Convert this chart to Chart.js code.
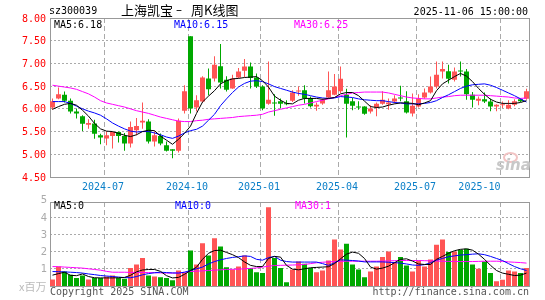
<!DOCTYPE html>
<html>
<head>
<meta charset="utf-8">
<script src="https://cdn.jsdelivr.net/npm/chart.js@4.4.0/dist/chart.umd.min.js"></script>
<style>
    html, body { margin: 0; padding: 0; background: #fff; }
    #wrap { position: relative; width: 545px; height: 300px; overflow: hidden; }
    canvas { position: absolute; left: 0; }
    #priceChart { top: 0; }
    #volChart { top: 190px; }
    .txt { position: absolute; white-space: nowrap; font: 10px "DejaVu Sans Mono", monospace; line-height: 12px; color: #000; }
    .cjk { font-family: "Noto Sans CJK SC", sans-serif; font-size: 13px; line-height: 16px; }
</style>
</head>
<body>
<div id="wrap">
    <canvas id="priceChart" width="545" height="190"></canvas>
    <canvas id="volChart" width="545" height="110"></canvas>

    <div class="txt" style="left:49px;top:5px;">sz300039</div>
    <div class="txt cjk" style="left:121px;top:2px;">上海凯宝</div>
    <div class="txt" style="left:176px;top:3px;font:12px 'DejaVu Sans';line-height:14px;">–</div>
    <div class="txt cjk" style="left:191px;top:2px;">周K线图</div>
    <div class="txt" style="right:17px;top:6px;">2025-11-06 15:00:00</div>

    <div class="txt" style="left:54px;top:19px;">MA5:6.18</div>
    <div class="txt" style="left:174px;top:19px;color:#0000ff;">MA10:6.15</div>
    <div class="txt" style="left:294px;top:19px;color:#ff00ff;">MA30:6.25</div>

    <div class="txt" style="left:54px;top:200px;">MA5:0</div>
    <div class="txt" style="left:175px;top:200px;color:#0000ff;">MA10:0</div>
    <div class="txt" style="left:295px;top:200px;color:#ff00ff;">MA30:1</div>

    <div class="txt" style="left:19px;top:279px;font-family:'Noto Sans CJK SC';font-size:11px;line-height:14px;color:#bbb;">x百万</div>
    <div class="txt" style="left:50px;top:286px;color:#555;">Copyright 2025 SINA.COM</div>
    <div class="txt" style="right:16px;top:286px;color:#555;">http://finance.sina.com.cn</div>

    <div style="position:absolute;left:503px;top:152px;width:11px;height:7px;border:2px solid #f2c4c4;border-radius:50%;"></div>
    <div class="txt" style="left:496px;top:157px;font:italic bold 15px 'DejaVu Sans';line-height:16px;color:#c8c8c8;">sina</div>
</div>

<script>
// Weekly bars, labelled by the Monday of each week
const weeks = [
    '2024-04-29', '2024-05-06', '2024-05-13', '2024-05-20', '2024-05-27', '2024-06-03', '2024-06-10', '2024-06-17', '2024-06-24', '2024-07-01',
    '2024-07-08', '2024-07-15', '2024-07-22', '2024-07-29', '2024-08-05', '2024-08-12', '2024-08-19', '2024-08-26', '2024-09-02', '2024-09-09',
    '2024-09-16', '2024-09-23', '2024-09-30', '2024-10-07', '2024-10-14', '2024-10-21', '2024-10-28', '2024-11-04', '2024-11-11', '2024-11-18',
    '2024-11-25', '2024-12-02', '2024-12-09', '2024-12-16', '2024-12-23', '2024-12-30', '2025-01-06', '2025-01-13', '2025-01-20', '2025-01-27',
    '2025-02-03', '2025-02-10', '2025-02-17', '2025-02-24', '2025-03-03', '2025-03-10', '2025-03-17', '2025-03-24', '2025-03-31', '2025-04-07',
    '2025-04-14', '2025-04-21', '2025-04-28', '2025-05-05', '2025-05-12', '2025-05-19', '2025-05-26', '2025-06-02', '2025-06-09', '2025-06-16',
    '2025-06-23', '2025-06-30', '2025-07-07', '2025-07-14', '2025-07-21', '2025-07-28', '2025-08-04', '2025-08-11', '2025-08-18', '2025-08-25',
    '2025-09-01', '2025-09-08', '2025-09-15', '2025-09-22', '2025-09-29', '2025-10-06', '2025-10-13', '2025-10-20', '2025-10-27', '2025-11-03'
];

const opens = [
    6.03, 6.23, 6.31, 6.18, 5.94, 5.84, 5.65, 5.68, 5.42, 5.35,
    5.40, 5.49, 5.40, 5.24, 5.53, 5.70, 5.72, 5.28, 5.40, 5.20,
    5.11, 5.08, 5.96, 7.60, 6.03, 6.16, 6.67, 6.67, 6.94, 6.64,
    6.45, 6.69, 6.84, 6.93, 6.69, 6.49, 6.11, 6.13, 6.17, 6.12,
    6.18, 6.38, 6.41, 6.24, 6.05, 6.12, 6.25, 6.31, 6.39, 6.31,
    6.17, 6.04, 6.05, 5.94, 6.03, 6.11, 6.10, 6.16, 6.24, 6.17,
    5.90, 6.05, 6.25, 6.36, 6.49, 6.82, 6.83, 6.64, 6.83, 6.82,
    6.31, 6.18, 6.21, 6.16, 6.05, 6.08, 6.01, 6.09, 6.21, 6.22
];
const highs = [
    6.23, 6.47, 6.38, 6.23, 6.01, 5.86, 5.77, 5.76, 5.45, 5.50,
    5.50, 5.50, 5.47, 5.72, 5.80, 6.14, 5.77, 5.50, 5.46, 5.28,
    5.11, 5.79, 6.52, 7.60, 6.30, 6.72, 6.89, 7.16, 7.43, 6.72,
    6.75, 6.90, 7.10, 7.02, 6.78, 6.52, 7.04, 6.32, 6.23, 6.19,
    6.41, 6.49, 6.52, 6.27, 6.14, 6.23, 6.82, 6.77, 6.93, 6.44,
    6.24, 6.17, 6.06, 6.08, 6.14, 6.39, 6.23, 6.30, 6.51, 6.39,
    6.34, 6.32, 6.45, 6.71, 7.04, 7.04, 6.97, 6.91, 7.04, 6.88,
    6.37, 6.27, 6.36, 6.23, 6.10, 6.16, 6.19, 6.21, 6.23, 6.44
];
const lows = [
    5.98, 6.21, 6.14, 5.90, 5.79, 5.51, 5.56, 5.34, 5.22, 5.20,
    5.13, 5.26, 5.08, 5.15, 5.42, 5.56, 5.24, 5.17, 5.20, 5.06,
    4.91, 5.04, 5.90, 5.90, 5.94, 6.14, 6.30, 6.60, 6.45, 6.38,
    6.44, 6.67, 6.70, 6.45, 6.46, 5.97, 6.09, 5.85, 6.01, 6.08,
    6.15, 6.29, 6.12, 6.03, 5.96, 6.09, 6.23, 6.30, 6.35, 5.37,
    5.97, 5.98, 5.87, 5.90, 5.84, 6.09, 5.98, 6.12, 6.17, 5.90,
    5.83, 6.03, 6.22, 6.34, 6.45, 6.67, 6.56, 6.60, 6.71, 6.20,
    6.03, 6.08, 6.13, 5.95, 5.95, 6.02, 5.99, 6.06, 6.15, 6.20
];
const closes = [
    6.17, 6.32, 6.18, 5.94, 5.90, 5.67, 5.69, 5.45, 5.37, 5.42,
    5.49, 5.40, 5.24, 5.60, 5.62, 5.74, 5.28, 5.42, 5.24, 5.08,
    5.08, 5.74, 6.39, 6.01, 6.19, 6.69, 6.43, 6.97, 6.58, 6.42,
    6.67, 6.82, 6.93, 6.68, 6.49, 6.01, 6.20, 6.12, 6.11, 6.10,
    6.36, 6.39, 6.23, 6.06, 6.09, 6.20, 6.41, 6.49, 6.66, 6.11,
    6.07, 6.03, 5.89, 6.01, 6.11, 6.20, 6.14, 6.23, 6.23, 5.92,
    6.07, 6.23, 6.36, 6.49, 6.75, 6.88, 6.66, 6.82, 6.82, 6.32,
    6.20, 6.22, 6.16, 6.05, 6.09, 6.09, 6.09, 6.17, 6.17, 6.39
];

// Price moving averages
const ma5 = [
    5.99, 6.05, 6.10, 6.12, 6.08, 5.97, 5.84, 5.68, 5.56, 5.51,
    5.50, 5.46, 5.42, 5.39, 5.43, 5.50, 5.53, 5.52, 5.40, 5.31,
    5.22, 5.33, 5.46, 5.62, 5.90, 6.15, 6.28, 6.40, 6.55, 6.62,
    6.66, 6.67, 6.69, 6.70, 6.71, 6.62, 6.48, 6.28, 6.19, 6.12,
    6.11, 6.19, 6.23, 6.23, 6.23, 6.21, 6.23, 6.25, 6.33, 6.36,
    6.36, 6.29, 6.17, 6.05, 6.03, 6.04, 6.08, 6.11, 6.13, 6.13,
    6.12, 6.09, 6.13, 6.18, 6.40, 6.55, 6.63, 6.71, 6.78, 6.72,
    6.60, 6.45, 6.32, 6.21, 6.15, 6.12, 6.12, 6.12, 6.14, 6.18
];
const ma10 = [
    6.16, 6.16, 6.16, 6.12, 6.06, 6.00, 5.95, 5.91, 5.86, 5.78,
    5.69, 5.62, 5.56, 5.51, 5.49, 5.50, 5.50, 5.47, 5.43, 5.38,
    5.35, 5.40, 5.47, 5.52, 5.55, 5.62, 5.75, 5.88, 6.07, 6.22,
    6.36, 6.48, 6.56, 6.61, 6.62, 6.60, 6.55, 6.49, 6.45, 6.41,
    6.37, 6.34, 6.32, 6.29, 6.26, 6.24, 6.23, 6.24, 6.27, 6.26,
    6.25, 6.22, 6.20, 6.19, 6.18, 6.18, 6.16, 6.14, 6.13, 6.11,
    6.11, 6.11, 6.12, 6.14, 6.18, 6.25, 6.31, 6.38, 6.45, 6.50,
    6.53, 6.54, 6.55, 6.52, 6.47, 6.41, 6.35, 6.29, 6.22, 6.15
];
const ma30 = [
    6.52, 6.50, 6.48, 6.46, 6.43, 6.38, 6.33, 6.26, 6.18, 6.13,
    6.10, 6.07, 6.04, 6.00, 5.96, 5.93, 5.90, 5.86, 5.82, 5.79,
    5.76, 5.73, 5.72, 5.72, 5.74, 5.75, 5.77, 5.78, 5.79, 5.80,
    5.81, 5.83, 5.84, 5.85, 5.86, 5.88, 5.93, 5.96, 5.99, 6.02,
    6.05, 6.08, 6.10, 6.13, 6.16, 6.19, 6.22, 6.25, 6.29, 6.32,
    6.35, 6.36, 6.37, 6.37, 6.37, 6.37, 6.35, 6.32, 6.29, 6.26,
    6.24, 6.23, 6.22, 6.22, 6.24, 6.26, 6.27, 6.29, 6.30, 6.30,
    6.30, 6.30, 6.30, 6.29, 6.28, 6.27, 6.26, 6.24, 6.23, 6.24
];

// Volume in millions, with its moving averages
const volumes = [
    0.38, 1.13, 0.84, 0.65, 0.46, 0.61, 0.38, 0.47, 0.47, 0.55,
    0.61, 0.46, 0.42, 1.04, 1.25, 1.62, 0.61, 0.55, 0.51, 0.46,
    0.34, 0.90, 0.75, 2.06, 1.25, 2.49, 1.77, 2.78, 2.30, 1.09,
    0.96, 1.13, 1.77, 1.04, 0.80, 0.75, 4.58, 1.62, 1.04, 0.22,
    0.96, 1.42, 1.29, 1.04, 0.80, 0.90, 1.48, 2.70, 2.12, 2.45,
    1.25, 0.96, 0.51, 0.84, 1.13, 1.68, 2.01, 1.39, 1.68, 1.19,
    0.84, 1.48, 1.13, 1.54, 2.39, 2.70, 1.97, 2.01, 2.10, 2.16,
    1.25, 1.00, 1.42, 0.75, 0.28, 0.36, 0.90, 0.84, 0.75, 1.04
];
const volMa5 = [
    0.63, 0.72, 0.80, 0.62, 0.60, 0.70, 0.55, 0.48, 0.47, 0.47,
    0.47, 0.48, 0.50, 0.62, 0.82, 0.93, 0.96, 0.96, 0.85, 0.60,
    0.47, 0.50, 0.68, 0.90, 1.09, 1.55, 1.90, 2.06, 2.08, 1.95,
    1.82, 1.65, 1.40, 1.20, 1.13, 1.13, 1.60, 1.72, 1.68, 1.20,
    0.98, 0.94, 1.00, 1.06, 1.08, 1.10, 1.12, 1.30, 1.58, 1.85,
    1.97, 1.90, 1.60, 1.10, 0.98, 1.04, 1.15, 1.35, 1.55, 1.58,
    1.45, 1.28, 1.25, 1.25, 1.55, 1.72, 1.90, 2.05, 2.13, 2.16,
    2.08, 1.85, 1.55, 1.20, 0.90, 0.75, 0.68, 0.61, 0.63, 0.75
];
const volMa10 = [
    0.84, 0.83, 0.82, 0.80, 0.78, 0.75, 0.70, 0.66, 0.61, 0.58,
    0.55, 0.52, 0.49, 0.48, 0.55, 0.65, 0.72, 0.77, 0.80, 0.78,
    0.76, 0.75, 0.80, 0.90, 1.00, 1.10, 1.28, 1.42, 1.52, 1.60,
    1.66, 1.70, 1.75, 1.72, 1.55, 1.50, 1.65, 1.72, 1.50, 1.42,
    1.39, 1.39, 1.39, 1.39, 1.39, 1.30, 1.20, 1.35, 1.52, 1.50,
    1.48, 1.45, 1.40, 1.40, 1.40, 1.40, 1.38, 1.36, 1.33, 1.28,
    1.22, 1.20, 1.24, 1.35, 1.50, 1.60, 1.70, 1.75, 1.80, 1.82,
    1.85, 1.87, 1.82, 1.72, 1.60, 1.48, 1.30, 1.13, 1.00, 0.90
];
const volMa30 = [
    1.13, 1.12, 1.10, 1.08, 1.06, 1.04, 1.00, 0.96, 0.92, 0.85,
    0.80, 0.80, 0.80, 0.79, 0.79, 0.79, 0.78, 0.77, 0.76, 0.75,
    0.75, 0.76, 0.80, 0.84, 0.86, 0.88, 0.90, 0.92, 0.94, 0.96,
    0.97, 0.98, 1.00, 1.02, 1.05, 1.10, 1.15, 1.19, 1.20, 1.21,
    1.22, 1.23, 1.25, 1.30, 1.35, 1.38, 1.40, 1.42, 1.43, 1.44,
    1.44, 1.44, 1.44, 1.44, 1.44, 1.45, 1.46, 1.47, 1.48, 1.48,
    1.48, 1.48, 1.47, 1.46, 1.45, 1.44, 1.43, 1.43, 1.42, 1.42,
    1.42, 1.43, 1.44, 1.44, 1.44, 1.43, 1.40, 1.38, 1.36, 1.33
];

// Axis ticks
const priceTicks = [8.0, 7.5, 7.0, 6.5, 6.0, 5.5, 5.0, 4.5];
const volTicks = [5, 4, 3, 2, 1];
const tickWeeks = ['2024-07-01', '2024-10-07', '2024-12-30', '2025-03-31', '2025-06-30', '2025-10-06'];
const tickLabels = ['2024-07', '2024-10', '2025-01', '2025-04', '2025-07', '2025-10'];

const UP_COLOR = '#ff5555';
const DOWN_COLOR = '#00a800';
const GRID_COLOR = '#aaaaaa';
const FRAME_COLOR = '#999999';
const MONO = '10px "DejaVu Sans Mono", monospace';

const barColors = opens.map((o, i) => closes[i] > o ? UP_COLOR : DOWN_COLOR);

// x of the dashed month line, just left of the bar centre
function monthLineX(xScale, week) {
    return Math.floor(xScale.getPixelForValue(weeks.indexOf(week)) - 2) + 0.5;
}

// Grid, frame and axis labels for one panel
const panelDecor = {
    id: 'panelDecor',
    beforeDatasetsDraw(chart, args, opts) {
        const { ctx, chartArea: area, scales: { x, y } } = chart;
        const left = Math.round(area.left);
        const right = Math.floor(area.right);
        const top = Math.round(area.top);
        const bottom = Math.round(area.bottom);

        ctx.save();
        ctx.lineWidth = 1;
        ctx.strokeStyle = GRID_COLOR;

        ctx.setLineDash([2, 2]);
        opts.gridValues.forEach(v => {
            const py = Math.floor(y.getPixelForValue(v)) + 0.5;
            ctx.beginPath();
            ctx.moveTo(left, py);
            ctx.lineTo(right, py);
            ctx.stroke();
        });

        ctx.setLineDash([5, 3]);
        tickWeeks.forEach(w => {
            const px = monthLineX(x, w);
            ctx.beginPath();
            ctx.moveTo(px, top);
            ctx.lineTo(px, bottom);
            ctx.stroke();
        });

        ctx.setLineDash([]);
        ctx.strokeStyle = FRAME_COLOR;
        ctx.strokeRect(left + 0.5, top + 0.5, right - left, bottom - top);
        ctx.restore();
    },
    afterDraw(chart, args, opts) {
        const { ctx, scales: { x, y } } = chart;
        ctx.save();

        // value labels on the left
        ctx.font = opts.labelFont;
        ctx.fillStyle = opts.labelColor;
        ctx.textAlign = 'right';
        ctx.textBaseline = 'alphabetic';
        opts.labelValues.forEach(v => {
            const py = y.getPixelForValue(v);
            ctx.fillText(opts.format(v), opts.labelRight, py + 3.5);
        });

        // month labels under the price panel
        if (opts.showMonths) {
            ctx.font = MONO;
            ctx.fillStyle = '#0a7fc8';
            tickWeeks.forEach((w, i) => {
                const px = monthLineX(x, w);
                const last = i === tickWeeks.length - 1;
                ctx.textAlign = last ? 'right' : 'center';
                ctx.fillText(tickLabels[i], last ? px : px - 1.5, 189.5);
            });
        }
        ctx.restore();
    }
};

function lineDataset(values, color) {
    return {
        type: 'line',
        data: values,
        borderColor: color,
        borderWidth: 1,
        pointRadius: 0,
        tension: 0,
        fill: false,
        order: 0
    };
}

function makePanel(canvasId, datasets, yMin, yMax, padding, decor) {
    const ctx = document.getElementById(canvasId);
    return new Chart(ctx, {
        type: 'bar',
        data: { labels: weeks, datasets: datasets },
        options: {
            responsive: false,
            animation: false,
            devicePixelRatio: 1,
            layout: { padding: padding },
            plugins: {
                legend: { display: false },
                tooltip: { enabled: false },
                panelDecor: decor
            },
            scales: {
                x: { type: 'category', offset: true, display: false },
                y: { min: yMin, max: yMax, display: false }
            }
        },
        plugins: [panelDecor]
    });
}

// Price panel: candles drawn as floating bars (wick + body)
makePanel('priceChart', [
    lineDataset(ma5, '#000000'),
    lineDataset(ma10, '#0000ff'),
    lineDataset(ma30, '#ff00ff'),
    {
        type: 'bar',
        data: opens.map((o, i) => [o, closes[i]]),
        backgroundColor: barColors,
        barThickness: 5,
        minBarLength: 1,
        grouped: false,
        inflateAmount: 0,
        borderWidth: 0,
        order: 2
    },
    {
        type: 'bar',
        data: lows.map((l, i) => [l, highs[i]]),
        backgroundColor: barColors,
        barThickness: 1,
        grouped: false,
        inflateAmount: 0,
        borderWidth: 0,
        order: 3
    }
], 4.5, 8.0, { left: 49.5, right: 15.5, top: 18, bottom: 13 }, {
    gridValues: [7.5, 7.0, 6.5, 6.0, 5.5, 5.0],
    labelValues: priceTicks,
    format: v => v.toFixed(2),
    labelFont: MONO,
    labelColor: '#ff0000',
    labelRight: 46,
    showMonths: true
});

// Volume panel
makePanel('volChart', [
    lineDataset(volMa5, '#000000'),
    lineDataset(volMa10, '#0000ff'),
    lineDataset(volMa30, '#ff00ff'),
    {
        type: 'bar',
        data: volumes,
        backgroundColor: barColors,
        barThickness: 5,
        grouped: false,
        inflateAmount: 0,
        borderWidth: 0,
        order: 2
    }
], 0, 4.88, { left: 49.5, right: 15.5, top: 12, bottom: 14 }, {
    gridValues: [4, 3, 2, 1],
    labelValues: volTicks,
    format: v => String(v),
    labelFont: '10px "DejaVu Sans", sans-serif',
    labelColor: '#aaaaaa',
    labelRight: 47,
    showMonths: false
});
</script>
</body>
</html>
